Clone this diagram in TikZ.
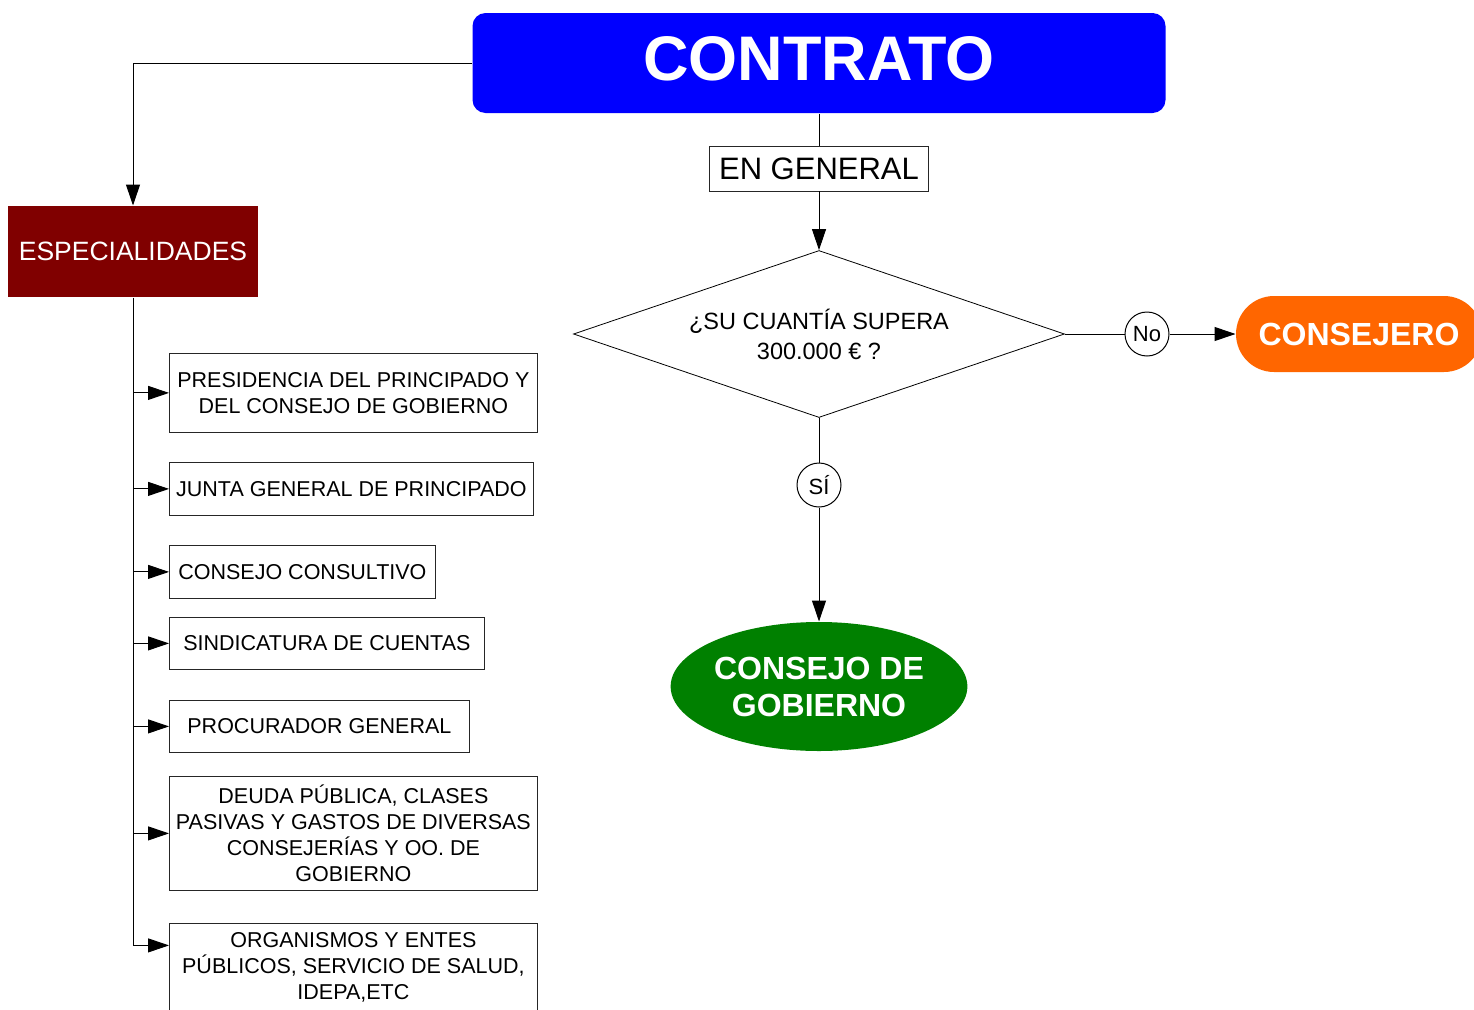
\documentclass[tikz,border=0pt]{standalone}
\usepackage{fontspec}
\setmainfont{Liberation Sans}
\usetikzlibrary{arrows.meta,shapes.geometric}
\definecolor{cazul}{RGB}{0,0,255}
\definecolor{cgranate}{RGB}{128,0,0}
\definecolor{cnaranja}{RGB}{255,102,0}
\definecolor{cverde}{RGB}{0,128,0}

\begin{document}
\begin{tikzpicture}[x=1pt, y=-1pt, line width=1pt, >={Triangle[length=21pt,width=14pt]},
  caja/.style={draw=black!85, line width=0.8pt, anchor=north west, inner sep=2pt,
    align=center, font=\fontsize{21.5}{26}\selectfont},
  circulo/.style={draw, circle, minimum size=44pt, inner sep=0pt, fill=white,
    font=\fontsize{22}{22}\selectfont},
  blanco/.style={text=white, align=center}]
\useasboundingbox (0,0) rectangle (1474,1009);

\node[fill=cazul, rounded corners=13pt, minimum width=693pt, minimum height=100pt,
  text depth=8pt, blanco, font=\fontsize{63}{63}\bfseries\selectfont] (contrato) at (819,63) {CONTRATO};
\node[draw=black!85, line width=0.8pt, minimum width=219pt, minimum height=45pt, inner sep=2pt,
  font=\fontsize{31}{31}\selectfont] (general) at (819,168.5) {EN GENERAL};
\node[diamond, draw, line width=0.8pt, aspect=2.94, minimum width=491pt, minimum height=167pt,
  inner sep=0pt, align=center, font=\fontsize{23.5}{30}\selectfont] (cuantia) at (819,334)
  {¿SU CUANTÍA SUPERA\\300.000 € ?};
\node[circulo] (no) at (1147,334) {No};
\node[circulo] (si) at (819,485) {SÍ};
\node[fill=cnaranja, rounded corners=38pt, minimum width=246pt, minimum height=76pt,
  blanco, font=\fontsize{32}{32}\bfseries\selectfont] (consejero) at (1359,334) {CONSEJERO};
\node[ellipse, fill=cverde, minimum width=293pt, minimum height=129pt, inner sep=0pt,
  blanco, font=\fontsize{32}{37}\bfseries\selectfont] (gobierno) at (819,686.5)
  {CONSEJO DE\\GOBIERNO};

\node[fill=cgranate, minimum width=250pt, minimum height=91pt, blanco,
  font=\fontsize{26.5}{26.5}\selectfont] (espec) at (133,251.5) {ESPECIALIDADES};

\node[caja, minimum width=368pt, minimum height=79pt] (presi) at (169,353)
  {PRESIDENCIA DEL PRINCIPADO Y\\DEL CONSEJO DE GOBIERNO};
\node[caja, minimum width=364pt, minimum height=53pt] (junta) at (169,462)
  {JUNTA GENERAL DE PRINCIPADO};
\node[caja, minimum width=266pt, minimum height=53pt] (consultivo) at (169,545)
  {CONSEJO CONSULTIVO};
\node[caja, minimum width=315pt, minimum height=52pt] (sindicatura) at (169,617)
  {SINDICATURA DE CUENTAS};
\node[caja, minimum width=300pt, minimum height=52pt] (procurador) at (169,700)
  {PROCURADOR GENERAL};
\node[caja, minimum width=368pt, minimum height=114pt] (deuda) at (169,776)
  {DEUDA PÚBLICA, CLASES\\PASIVAS Y GASTOS DE DIVERSAS\\CONSEJERÍAS Y OO. DE\\GOBIERNO};
\node[caja, minimum width=368pt, minimum height=88pt] (organismos) at (169,923)
  {ORGANISMOS Y ENTES\\PÚBLICOS, SERVICIO DE SALUD,\\IDEPA,ETC};

\draw[->] (contrato.west) -| (espec.north);
\draw (contrato.south) -- (general.north);
\draw[->] (general.south) -- (cuantia.north);
\draw (cuantia.east) -- (no.west);
\draw[->] (no.east) -- (consejero.west);
\draw (cuantia.south) -- (si.north);
\draw[->] (si.south) -- (gobierno.north);

\draw[->] (espec.south) |- ([yshift=22pt]organismos.west);
\foreach \c in {presi,junta,consultivo,sindicatura,procurador,deuda}
  \draw[->] (espec.south |- \c.west) -- (\c.west);
\end{tikzpicture}
\end{document}
